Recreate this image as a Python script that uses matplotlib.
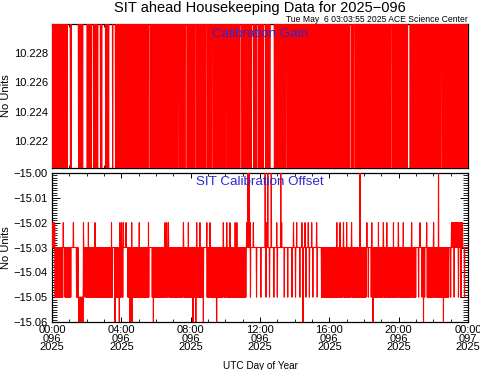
import numpy as np
import matplotlib
matplotlib.use("Agg")
import matplotlib.pyplot as plt
from matplotlib.ticker import FixedLocator, MultipleLocator

plt.rcParams['font.family'] = ['Liberation Sans', 'DejaVu Sans']

# ---------------- data (hours of day 096, 2025) ----------------
title = "SIT ahead Housekeeping Data for 2025\u2212096"
subtitle = "Tue May  6 03:03:55 2025 ACE Science Center"
panel1_name = "Calibration Gain"
panel2_name = "SIT Calibration Offset"
xtick_hours = [0, 4, 8, 12, 16, 20, 24]
xtick_labels = ["00:00\n096\n2025", "04:00\n096\n2025", "08:00\n096\n2025",
                "12:00\n096\n2025", "16:00\n096\n2025", "20:00\n096\n2025",
                "00:00\n097\n2025"]

# Calibration gain: toggles between two levels (both just off-scale);
# intervals where the value stays put (white gaps in the plot)
gain_low = 10.2195
gain_high = 10.2305
gain_steady = [(0.90, 1.05), (1.13, 1.53), (1.80, 2.01), (2.28, 2.39), (2.44, 2.52),
               (2.64, 2.78), (2.88, 3.07), (3.28, 3.47), (3.51, 3.65), (5.54, 5.65),
               (5.80, 5.86), (6.14, 6.20), (6.95, 7.02), (7.24, 7.30), (7.70, 7.77),
               (8.06, 8.12), (8.25, 8.31), (8.89, 8.96), (9.22, 9.27), (10.04, 10.12),
               (10.27, 10.35), (10.85, 10.95), (11.52, 11.61), (11.77, 11.87),
               (12.23, 12.33), (12.58, 12.81), (13.50, 13.56), (17.14, 17.24),
               (17.43, 17.48), (17.89, 17.93), (19.56, 19.60), (20.53, 20.66),
               (22.45, 22.52), (22.85, 22.88), (23.43, 23.46)]

# Calibration offset
offset_base = -15.03
offset_band_low = -15.05
offset_band = [(0.17, 0.68), (0.74, 1.10), (1.40, 1.88), (1.95, 3.50), (3.66, 4.10),
               (4.36, 5.60), (5.76, 8.70), (8.95, 11.20), (15.55, 18.12), (18.40, 21.00),
               (21.65, 22.90)]
offset_sparse_low = [11.30, 11.45, 11.62, 11.80, 12.05, 12.35, 12.55, 12.80, 13.00,
                     13.20, 13.40, 13.60, 13.85, 14.05, 14.30, 14.65, 14.85, 15.05,
                     15.30, 18.25, 21.15, 21.35, 21.50, 23.00, 23.20, 23.45, 23.60, 23.80]
offset_up_level = -15.02
offset_up = [0.65, 1.23, 1.81, 2.10, 2.48, 3.44, 3.92, 4.02, 4.12, 4.27, 4.60, 5.04,
             5.56, 6.52, 6.62, 6.71, 7.58, 7.87, 8.35, 8.54, 8.93, 9.12, 9.50, 9.89,
             10.08, 10.27, 10.56, 10.66, 11.23, 11.43, 11.62, 12.39, 12.97, 13.25,
             13.93, 14.12, 14.41, 14.60, 14.79, 14.98, 15.27, 16.43, 16.62, 16.81,
             17.00, 17.29, 18.16, 18.45, 18.83, 19.12, 19.31, 19.70, 19.98, 20.27,
             20.75, 21.24, 21.62, 22.01]
offset_up_band = [(0.02, 0.15), (23.05, 23.70)]
offset_top_level = -14.99
offset_top = [11.30, 11.38, 12.30, 12.45, 12.65, 13.20, 17.77, 22.30]
offset_drop_level = -15.06
offset_drop = [3.64, 3.88, 4.50, 4.62, 5.85, 8.14, 8.30, 8.73, 9.50, 14.48, 18.52,
               21.43, 22.58]
offset_drop_band = [(1.52, 1.80)]

# ---------------- build series (1-minute samples) ----------------
t = np.arange(0, 24 * 60 + 1) / 60.0
idx = np.arange(t.size)

gain = np.where(idx % 2 == 0, gain_low, gain_high)
for a, b in gain_steady:
    gain[(t >= a) & (t <= b)] = gain_high

def nearest(h):
    return int(round(h * 60))

off = np.full(t.size, offset_base)
for a, b in offset_band:
    m = (t >= a) & (t <= b) & (idx % 2 == 1)
    off[m] = offset_band_low
for a, b in offset_up_band:
    m = (t >= a) & (t <= b) & (idx % 2 == 1)
    off[m] = offset_up_level
for a, b in offset_drop_band:
    m = (t >= a) & (t <= b)
    off[m & (idx % 2 == 1)] = offset_drop_level
    off[m & (idx % 2 == 0)] = offset_band_low
for h in offset_sparse_low:
    off[nearest(h)] = offset_band_low
for h in offset_up:
    off[nearest(h)] = offset_up_level
for h in offset_drop:
    off[nearest(h)] = offset_drop_level
for h in offset_top:
    off[nearest(h)] = offset_top_level

# ---------------- figure ----------------
fig = plt.figure(figsize=(4.81, 3.70), dpi=100)
W, H = 481.0, 370.0
x0, x1 = 52, 468
ax1 = fig.add_axes([x0 / W, 1 - 168 / H, (x1 - x0) / W, (168 - 24) / H])
ax2 = fig.add_axes([x0 / W, 1 - 322 / H, (x1 - x0) / W, (322 - 173) / H])

red = '#ff0000'
lw = 0.8
ax1.plot(t, gain, color=red, lw=lw, zorder=3)
ax2.plot(t, off, color=red, lw=lw, zorder=3)

fs = 8
for ax in (ax1, ax2):
    ax.set_xlim(0, 24)
    ax.xaxis.set_major_locator(FixedLocator(xtick_hours))
    ax.xaxis.set_minor_locator(MultipleLocator(1))
    ax.tick_params(axis='x', which='major', direction='in', length=3.5, width=0.7,
                   top=True, bottom=True)
    ax.tick_params(axis='x', which='minor', direction='in', length=2.2, width=0.6,
                   top=True, bottom=True)
    for s in ax.spines.values():
        s.set_linewidth(0.9)
    ax.set_ylabel("No Units", fontsize=fs)
    ax.yaxis.set_label_coords(-0.099, 0.5)

ax1.set_ylim(10.22013, 10.23001)
ax1.yaxis.set_major_locator(FixedLocator([10.222, 10.224, 10.226, 10.228]))
ax1.set_yticklabels(["10.222", "10.224", "10.226", "10.228"])
ax1.tick_params(axis='y', which='major', direction='in', length=6, width=0.7,
                left=True, right=True, labelsize=fs, pad=3)
ax1.set_xticklabels([])

ax2.set_ylim(-15.06, -15.00)
yt = [-15.06, -15.05, -15.04, -15.03, -15.02, -15.01, -15.00]
ax2.yaxis.set_major_locator(FixedLocator(yt))
ax2.set_yticklabels(["\u221215.06", "\u221215.05", "\u221215.04", "\u221215.03",
                     "\u221215.02", "\u221215.01", "\u221215.00"])
ax2.yaxis.set_minor_locator(MultipleLocator(0.001))
ax2.tick_params(axis='y', which='major', direction='in', length=6, width=0.7,
                left=True, right=True, labelsize=fs, pad=3)
ax2.tick_params(axis='y', which='minor', direction='in', length=3.5, width=0.6,
                left=True, right=True)
ax2.set_xticklabels(xtick_labels, fontsize=fs, linespacing=0.85)
ax2.tick_params(axis='x', which='major', pad=2)
ax2.set_xlabel("UTC Day of Year", fontsize=7.2, labelpad=6)

blue = '#2a2ad0'
ax1.text(0.5, 1 - (34 - 24) / 144.0, panel1_name, transform=ax1.transAxes,
         ha='center', va='center', color=blue, fontsize=9.6, zorder=5)
ax2.text(0.5, 1 - (182 - 173) / 149.0, panel2_name, transform=ax2.transAxes,
         ha='center', va='center', color=blue, fontsize=9.6, zorder=5)

fig.text(259.5 / W, 1 - 8 / H, title, ha='center', va='center', fontsize=10.5)
fig.text(468 / W, 1 - 19 / H, subtitle, ha='right', va='center', fontsize=6.2)

fig.savefig("out.png", dpi=100)
